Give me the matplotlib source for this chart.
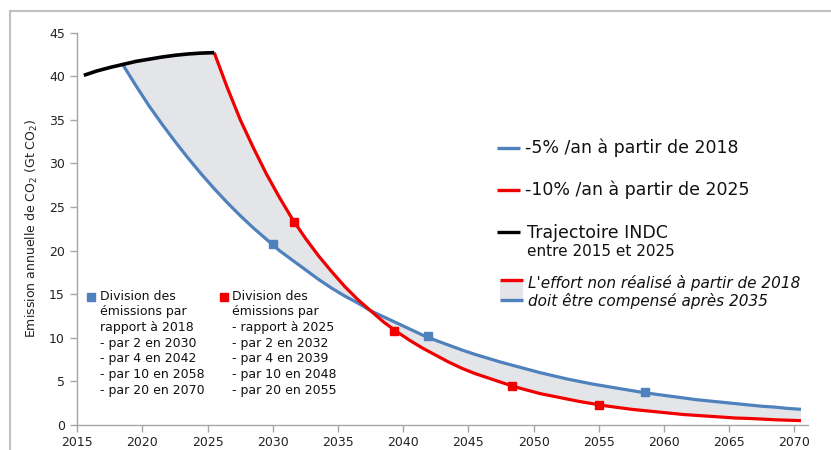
import matplotlib
matplotlib.use("Agg")
import matplotlib.pyplot as plt
from matplotlib.patches import Rectangle, Polygon
from matplotlib.lines import Line2D

plt.rcParams['font.family'] = ['DejaVu Sans']

# ---------------- data ----------------
indc_years = list(range(2015, 2026))
indc_values = [40.1, 40.6, 41.0, 41.35, 41.7, 41.95, 42.2, 42.4, 42.55, 42.65, 42.7]

blue_years = list(range(2018, 2071))
blue_values = [41.3, 38.9, 36.6, 34.5, 32.5, 30.6, 28.8, 27.1, 25.5, 24.0,
               22.6, 21.3, 20.0, 18.9, 17.8, 16.7, 15.7, 14.8, 14.0, 13.1,
               12.4, 11.7, 11.0, 10.3, 9.7, 9.15, 8.6, 8.1, 7.65, 7.2,
               6.8, 6.4, 6.0, 5.65, 5.3, 5.0, 4.7, 4.45, 4.2, 3.95,
               3.7, 3.5, 3.3, 3.1, 2.9, 2.75, 2.6, 2.45, 2.3, 2.15,
               2.05, 1.9, 1.8]

red_years = list(range(2025, 2071))
red_values = [42.7, 38.7, 35.0, 31.8, 28.8, 26.1, 23.6, 21.4, 19.4, 17.6,
              15.9, 14.4, 13.1, 11.8, 10.7, 9.7, 8.8, 8.0, 7.2, 6.5,
              5.9, 5.4, 4.9, 4.4, 4.0, 3.6, 3.3, 3.0, 2.7, 2.45,
              2.2, 2.0, 1.8, 1.65, 1.5, 1.35, 1.2, 1.1, 1.0, 0.9,
              0.8, 0.75, 0.68, 0.6, 0.55, 0.5]

blue_marker_x = [2030.0, 2041.9, 2058.5]
blue_marker_y = [20.7, 10.2, 3.75]
red_marker_x = [2031.6, 2039.3, 2048.3, 2055.0]
red_marker_y = [23.3, 10.75, 4.5, 2.3]

x_ticks = list(range(2015, 2071, 5))
y_ticks = list(range(0, 46, 5))

legend_labels = ["-5% /an à partir de 2018", "-10% /an à partir de 2025",
                 "Trajectoire INDC", "entre 2015 et 2025",
                 "L'effort non réalisé à partir de 2018",
                 "doit être compensé après 2035"]
blue_note = ("Division des\némissions par\nrapport à 2018\n- par 2 en 2030\n"
             "- par 4 en 2042\n- par 10 en 2058\n- par 20 en 2070")
red_note = ("Division des\némissions par\n- rapport à 2025\n- par 2 en 2032\n"
            "- par 4 en 2039\n- par 10 en 2048\n- par 20 en 2055")
ylabel = "Emission annuelle de CO$_2$ (Gt CO$_2$)"

BLUE = '#4F81BD'
RED = '#F00000'
FILL = '#E4E5E8'
GRID = '#A6A6A6'

W, H = 831, 450
fig = plt.figure(figsize=(W / 100, H / 100), dpi=100)
fig.patch.set_facecolor('white')

def fx(x):
    return x / W

def fy(y):
    return 1 - y / H

# outer frame
fig.add_artist(Rectangle((fx(10), -0.1), 1.2, fy(11) + 0.1, transform=fig.transFigure,
                         fill=False, edgecolor='#C0C0C0', lw=1.5))

ax = fig.add_axes([fx(77.3), fy(425), fx(807.5) - fx(77.3), fy(32.6) - fy(425)])
ax.set_facecolor('none')

off = 0.5  # category centring
bx = [y + off for y in blue_years]
rx = [y + off for y in red_years]
kx = [y + off for y in indc_years]

# shaded area between the blue path and the INDC + red path
i18 = indc_years.index(2018)
poly_x = bx + rx[::-1] + kx[i18:][::-1]
poly_y = blue_values + red_values[::-1] + indc_values[i18:][::-1]
ax.add_patch(Polygon(list(zip(poly_x, poly_y)), closed=True, facecolor=FILL,
                     edgecolor='none', zorder=1))

ax.plot(bx, blue_values, color=BLUE, lw=2.3, zorder=3, solid_capstyle='butt')
ax.plot(rx, red_values, color=RED, lw=2.3, zorder=4, solid_capstyle='butt')
ax.plot(kx, indc_values, color='black', lw=2.6, zorder=5, solid_capstyle='butt')
ax.plot(blue_marker_x, blue_marker_y, 's', color=BLUE, ms=6, zorder=6)
ax.plot(red_marker_x, red_marker_y, 's', color=RED, ms=6, zorder=6)

ax.set_xlim(2015, 2071)
ax.set_ylim(0, 45)
ax.set_xticks(x_ticks)
ax.set_yticks(y_ticks)
ax.tick_params(axis='both', direction='out', length=5, width=1, color=GRID,
               labelsize=9, labelcolor='#222222')
ax.tick_params(axis='x', pad=3)
ax.tick_params(axis='y', pad=4)
for s in ['top', 'right']:
    ax.spines[s].set_visible(False)
for s in ['left', 'bottom']:
    ax.spines[s].set_color(GRID)
    ax.spines[s].set_linewidth(1)
ax.set_ylabel(ylabel, fontsize=9, color='#222222')
ax.yaxis.set_label_coords(-0.051, 0.5)

# ---------------- right legend ----------------
def leg_line(y, color, x0=497, x1=520):
    fig.add_artist(Line2D([fx(x0), fx(x1)], [fy(y), fy(y)], transform=fig.transFigure,
                          color=color, lw=2.4, solid_capstyle='butt'))

leg_line(148, BLUE)
fig.text(fx(525), fy(148), legend_labels[0], fontsize=12.5, va='center', ha='left', color='#111111')
leg_line(190, RED)
fig.text(fx(525), fy(190), legend_labels[1], fontsize=12.5, va='center', ha='left', color='#111111')
leg_line(232, 'black')
fig.text(fx(527), fy(233), legend_labels[2], fontsize=12.5, va='center', ha='left', color='#111111')
fig.text(fx(527), fy(251), legend_labels[3], fontsize=11, va='center', ha='left', color='#111111')

fig.add_artist(Rectangle((fx(500), fy(299)), fx(523) - fx(500), fy(281) - fy(299),
                         transform=fig.transFigure, facecolor=FILL, edgecolor='none'))
leg_line(280, RED, 500, 523)
leg_line(300, BLUE, 500, 523)
fig.text(fx(528), fy(283), legend_labels[4], fontsize=11, style='italic',
         va='center', ha='left', color='#111111')
fig.text(fx(528), fy(301), legend_labels[5], fontsize=11, style='italic',
         va='center', ha='left', color='#111111')

# ---------------- notes ----------------
fig.add_artist(Line2D([fx(90.7)], [fy(296.5)], transform=fig.transFigure, marker='s',
                      color=BLUE, ms=5.5, lw=0))
fig.add_artist(Line2D([fx(224)], [fy(296.5)], transform=fig.transFigure, marker='s',
                      color=RED, ms=5.5, lw=0))
fig.text(fx(100), fy(289.5), blue_note, fontsize=9, va='top', ha='left',
         linespacing=1.27, color='#111111')
fig.text(fx(232.5), fy(289.5), red_note, fontsize=9, va='top', ha='left',
         linespacing=1.27, color='#111111')

fig.savefig('out.png', dpi=100, facecolor='white')
